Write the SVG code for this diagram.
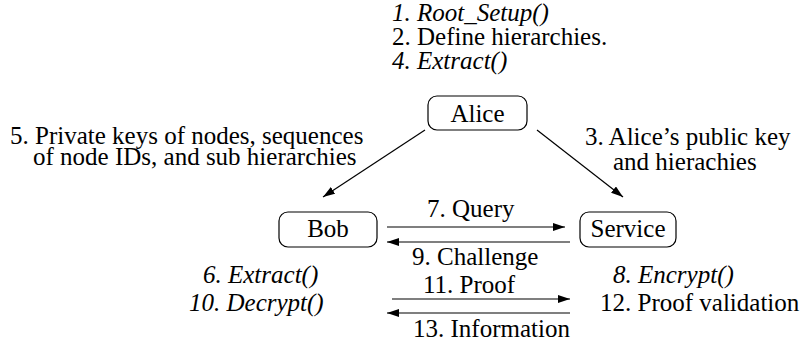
<svg xmlns="http://www.w3.org/2000/svg" width="806" height="347" viewBox="0 0 806 347">
<defs>
<style>
text{font-family:"Liberation Serif","Times New Roman",serif;font-size:25px;fill:#000}
.it{font-style:italic}
.c{text-anchor:middle}
.box{fill:#fff;stroke:#000;stroke-width:1.2}
.ln{stroke:#000;stroke-width:1.2;fill:none;marker-end:url(#ah)}
</style>
<marker id="ah" viewBox="0 0 12 8" refX="12" refY="4" markerWidth="12" markerHeight="8" markerUnits="userSpaceOnUse" orient="auto">
<path d="M0,0 L12,4 L0,8 Z" fill="#000"/>
</marker>
</defs>
<rect width="806" height="347" fill="#fff"/>
<g id="alice">
<rect class="box" x="428" y="96" width="99" height="34" rx="9"/>
<text class="c" x="477.5" y="121.5">Alice</text>
</g>
<g id="bob">
<rect class="box" x="279" y="212" width="98" height="35" rx="9"/>
<text class="c" x="328" y="237">Bob</text>
</g>
<g id="service">
<rect class="box" x="580" y="212" width="96" height="35" rx="9"/>
<text class="c" x="628" y="237">Service</text>
</g>
<g id="alice-notes">
<text class="it" x="392" y="21">1. Root_Setup()</text>
<text x="392" y="45">2. Define hierarchies.</text>
<text class="it" x="392" y="69">4. Extract()</text>
</g>
<g id="bob-notes">
<text class="it" x="203" y="283">6. Extract()</text>
<text class="it" x="189" y="311">10. Decrypt()</text>
</g>
<g id="service-notes">
<text class="it" x="613" y="283">8. Encrypt()</text>
<text x="600" y="311">12. Proof validation</text>
</g>
<g id="connectors">
<line class="ln" x1="425" y1="130" x2="323" y2="197"/>
<line class="ln" x1="537" y1="130" x2="623" y2="197"/>
<line class="ln" x1="387" y1="227" x2="565" y2="227"/>
<line class="ln" x1="570" y1="242" x2="387" y2="242"/>
<line class="ln" x1="392" y1="299" x2="570" y2="299"/>
<line class="ln" x1="570" y1="313" x2="387" y2="313"/>
<text x="10" y="144">5. Private keys of nodes, sequences</text>
<text x="33" y="165">of node IDs, and sub hierarchies</text>
<text x="585" y="145">3. Alice’s public key</text>
<text x="613" y="170">and hierachies</text>
<text x="427" y="217">7. Query</text>
<text x="412" y="265">9. Challenge</text>
<text x="423" y="293">11. Proof</text>
<text x="413" y="337">13. Information</text>
</g>
</svg>
